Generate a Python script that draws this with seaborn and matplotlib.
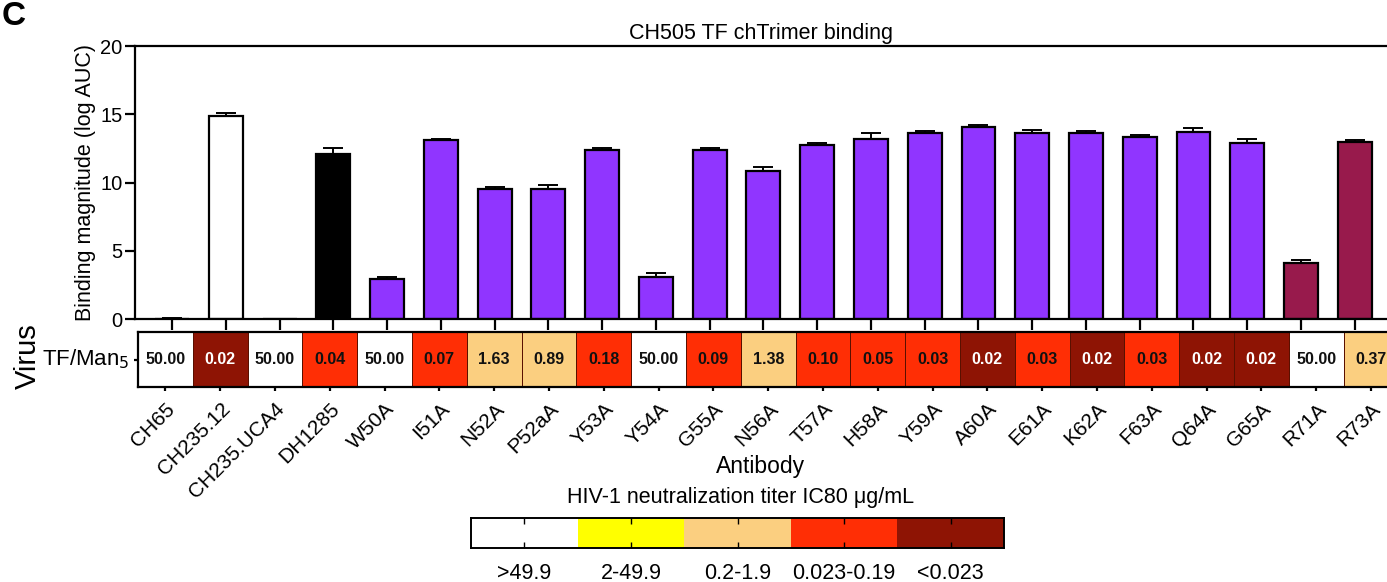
import numpy as np
import pandas as pd
import matplotlib
matplotlib.use("Agg")
import matplotlib.pyplot as plt
from matplotlib.colors import ListedColormap
from matplotlib import font_manager
import seaborn as sns

antibodies = ["CH65", "CH235.12", "CH235.UCA4", "DH1285", "W50A", "I51A", "N52A", "P52aA",
              "Y53A", "Y54A", "G55A", "N56A", "T57A", "H58A", "Y59A", "A60A", "E61A", "K62A",
              "F63A", "Q64A", "G65A", "R71A", "R73A"]
binding = [0.0, 14.85, 0.0, 12.1, 2.9, 13.1, 9.55, 9.5, 12.4, 3.05, 12.4, 10.85, 12.75, 13.2,
           13.65, 14.1, 13.65, 13.65, 13.35, 13.7, 12.9, 4.1, 13.0]
binding_err = [0.05, 0.25, 0.0, 0.4, 0.2, 0.1, 0.15, 0.3, 0.15, 0.3, 0.1, 0.25, 0.15, 0.45,
               0.1, 0.1, 0.2, 0.15, 0.15, 0.3, 0.3, 0.25, 0.1]
bar_colors = ["#FFFFFF", "#FFFFFF", "#FFFFFF", "#000000"] + ["#9035FF"] * 17 + ["#981A4C", "#981A4C"]
ic80 = [50.00, 0.02, 50.00, 0.04, 50.00, 0.07, 1.63, 0.89, 0.18, 50.00, 0.09, 1.38, 0.10, 0.05,
        0.03, 0.02, 0.03, 0.02, 0.03, 0.02, 0.02, 50.00, 0.37]
bin_labels = [">49.9", "2-49.9", "0.2-1.9", "0.023-0.19", "<0.023"]
bin_colors = ["#FFFFFF", "#FFFF00", "#FBCF80", "#FF2E05", "#8E1404"]
bin_edges = [49.9, 1.95, 0.195, 0.0225]  # category thresholds (high to low)

def category(v):
    for k, e in enumerate(bin_edges):
        if v > e:
            return k
    return len(bin_edges)

plt.rcParams["font.family"] = ["Liberation Sans", "DejaVu Sans"]
names = {f.name for f in font_manager.fontManager.ttflist}
cell_family = "Liberation Sans Narrow" if "Liberation Sans Narrow" in names else "Liberation Sans"
cell_size = 13.5 if cell_family == "Liberation Sans Narrow" else 11.5

W, H = 1387, 582
fig = plt.figure(figsize=(W / 100, H / 100), dpi=100)

def fx(px):
    return px / W

def fy(py):
    return 1 - py / H

XL = (-0.69, 22.6)
LW = 1.6

# ---------- bar chart ----------
ax = fig.add_axes([fx(135), fy(319), 1 - fx(135), fy(46) - fy(319)])
df = pd.DataFrame({"Antibody": antibodies, "Binding": binding})
sns.barplot(data=df, x="Antibody", y="Binding", hue="Antibody", palette=bar_colors,
            legend=False, edgecolor="black", linewidth=LW, width=0.63, ax=ax,
            errorbar=None, saturation=1)
xs = np.arange(len(antibodies))
ax.errorbar(xs, binding, yerr=[np.zeros(len(binding)), binding_err], fmt="none",
            ecolor="black", elinewidth=1.4, capsize=7, capthick=1.4, zorder=5)
ax.set_xlim(*XL)
ax.set_ylim(0, 20)
ax.set_yticks([0, 5, 10, 15, 20])
ax.set_xticks(xs)
ax.set_xticklabels([])
ax.set_xlabel("")
ax.set_ylabel("Binding magnitude (log AUC)", fontsize=15.5, labelpad=3)
ax.set_title("CH505 TF chTrimer binding", fontsize=15.5, pad=5)
for s in ["left", "bottom", "top"]:
    ax.spines[s].set_linewidth(LW)
    ax.spines[s].set_color("black")
ax.spines["right"].set_visible(False)
ax.tick_params(axis="y", direction="out", length=7, width=LW, labelsize=14.5, pad=2)
ax.tick_params(axis="x", direction="out", length=8, width=LW)
ax.set_facecolor("white")

# ---------- heatmap ----------
CELL = 54.8
hax = fig.add_axes([fx(138), fy(387), 1 - fx(138), fy(332) - fy(387)])
codes = np.array([[category(v) for v in ic80]])
annot = np.array([[f"{v:.2f}" for v in ic80]])
sns.heatmap(codes, cmap=ListedColormap(bin_colors), vmin=-0.5, vmax=4.5, annot=annot, fmt="",
            cbar=False, linewidths=0.6, linecolor="#5a1000", ax=hax,
            annot_kws={"fontsize": cell_size, "fontweight": "bold", "family": cell_family})
for t, c in zip(hax.texts, codes[0]):
    t.set_color("white" if c == 4 else "#111111")
hax.set_xlim(0, (W - 138) / CELL)
hax.set_xticks(xs + 0.5)
hax.set_xticklabels(antibodies, rotation=45, ha="right", rotation_mode="anchor", fontsize=15)
hax.set_yticks([0.5])
hax.set_yticklabels(["TF/Man$_5$"], rotation=0, fontsize=16)
for s in hax.spines.values():
    s.set_visible(True)
    s.set_linewidth(LW)
    s.set_color("black")
hax.spines["right"].set_visible(False)
hax.tick_params(axis="x", direction="out", length=3, width=LW, pad=6)
hax.tick_params(axis="y", direction="out", length=3, width=LW, pad=3)
hax.set_xlabel("")
hax.set_ylabel("")

fig.text(fx(28), fy(356), "Virus", rotation=90, ha="center", va="center", fontsize=21)
fig.text(fx(761), fy(467), "Antibody", ha="center", va="center", fontsize=16.5)
fig.text(fx(741), fy(497), "HIV-1 neutralization titer IC80 \u03bcg/mL", ha="center",
         va="center", fontsize=15.5)

# ---------- colour legend bar ----------
cax = fig.add_axes([fx(471), fy(548), fx(1004) - fx(471), fy(518) - fy(548)])
sns.heatmap(np.arange(len(bin_labels))[None, :], cmap=ListedColormap(bin_colors), cbar=False,
            ax=cax, vmin=-0.5, vmax=4.5)
cax.set_xticks(np.arange(len(bin_labels)) + 0.5)
cax.set_xticklabels(bin_labels, fontsize=15.5, rotation=0)
cax.set_yticks([])
for s in cax.spines.values():
    s.set_visible(True)
    s.set_linewidth(1.4)
    s.set_color("black")
cax.tick_params(axis="x", direction="in", length=4, width=1, pad=11, top=True)

fig.text(0.001, 0.999, "C", fontsize=24, fontweight="bold", ha="left", va="top")

fig.savefig("out.png", dpi=100, facecolor="white")
